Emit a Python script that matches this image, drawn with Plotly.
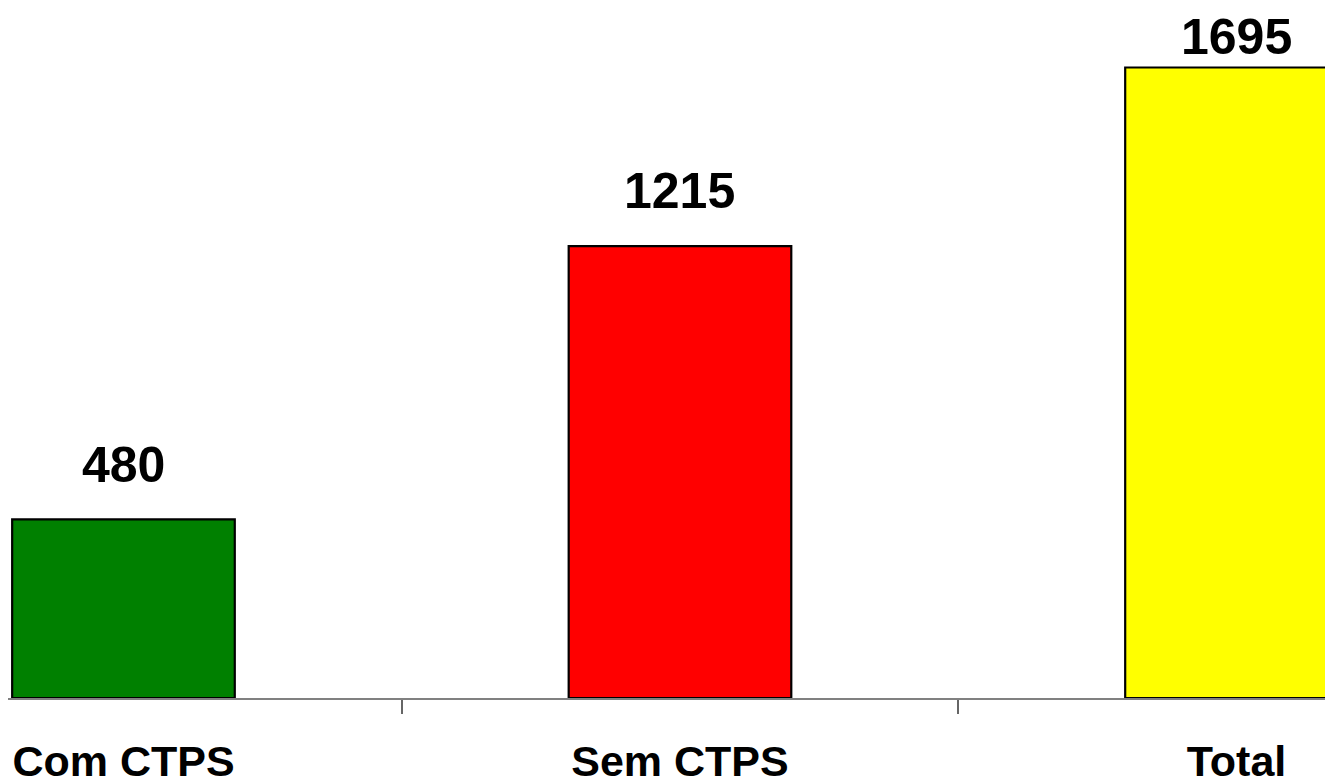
import plotly.graph_objects as go

categories = ["Com CTPS", "Sem CTPS", "Total"]
values = [480, 1215, 1695]
colors = ["#008000", "#FF0000", "#FFFF00"]

Y_MAX = 1855
LABEL_OFFSET = 147
LABEL_CAP = 1778

fig = go.Figure()
fig.add_trace(go.Bar(
    x=categories, y=values, width=0.4,
    marker=dict(color=colors, line=dict(color="#000000", width=2.2)),
    hoverinfo="skip", showlegend=False,
))

for c, v in zip(categories, values):
    fig.add_annotation(
        x=c, y=min(v + LABEL_OFFSET, LABEL_CAP), text=f"<b>{v}</b>",
        showarrow=False, xanchor="center", yanchor="middle",
        font=dict(family="Liberation Sans, Arial", size=50, color="#000000"),
    )

fig.update_layout(
    width=1333, height=783,
    margin=dict(l=0, r=0, t=0, b=93),
    paper_bgcolor="#FFFFFF", plot_bgcolor="#FFFFFF",
    font=dict(family="Liberation Sans, Arial", color="#000000"),
)
fig.update_xaxes(
    type="category", range=[-0.2075, 2.1878],
    tickvals=categories, ticktext=[f"<b>{c}</b>" for c in categories],
    showline=True, linecolor="#808080", linewidth=1.5,
    ticks="outside", tickson="boundaries", ticklen=14, tickwidth=1.5, tickcolor="#666666",
    ticklabelstandoff=25,
    tickfont=dict(family="Liberation Sans, Arial", size=43, color="#000000"),
    showgrid=False, zeroline=False,
)
fig.update_yaxes(range=[0, Y_MAX], visible=False, showgrid=False, zeroline=False)

fig.write_html("out.html")
